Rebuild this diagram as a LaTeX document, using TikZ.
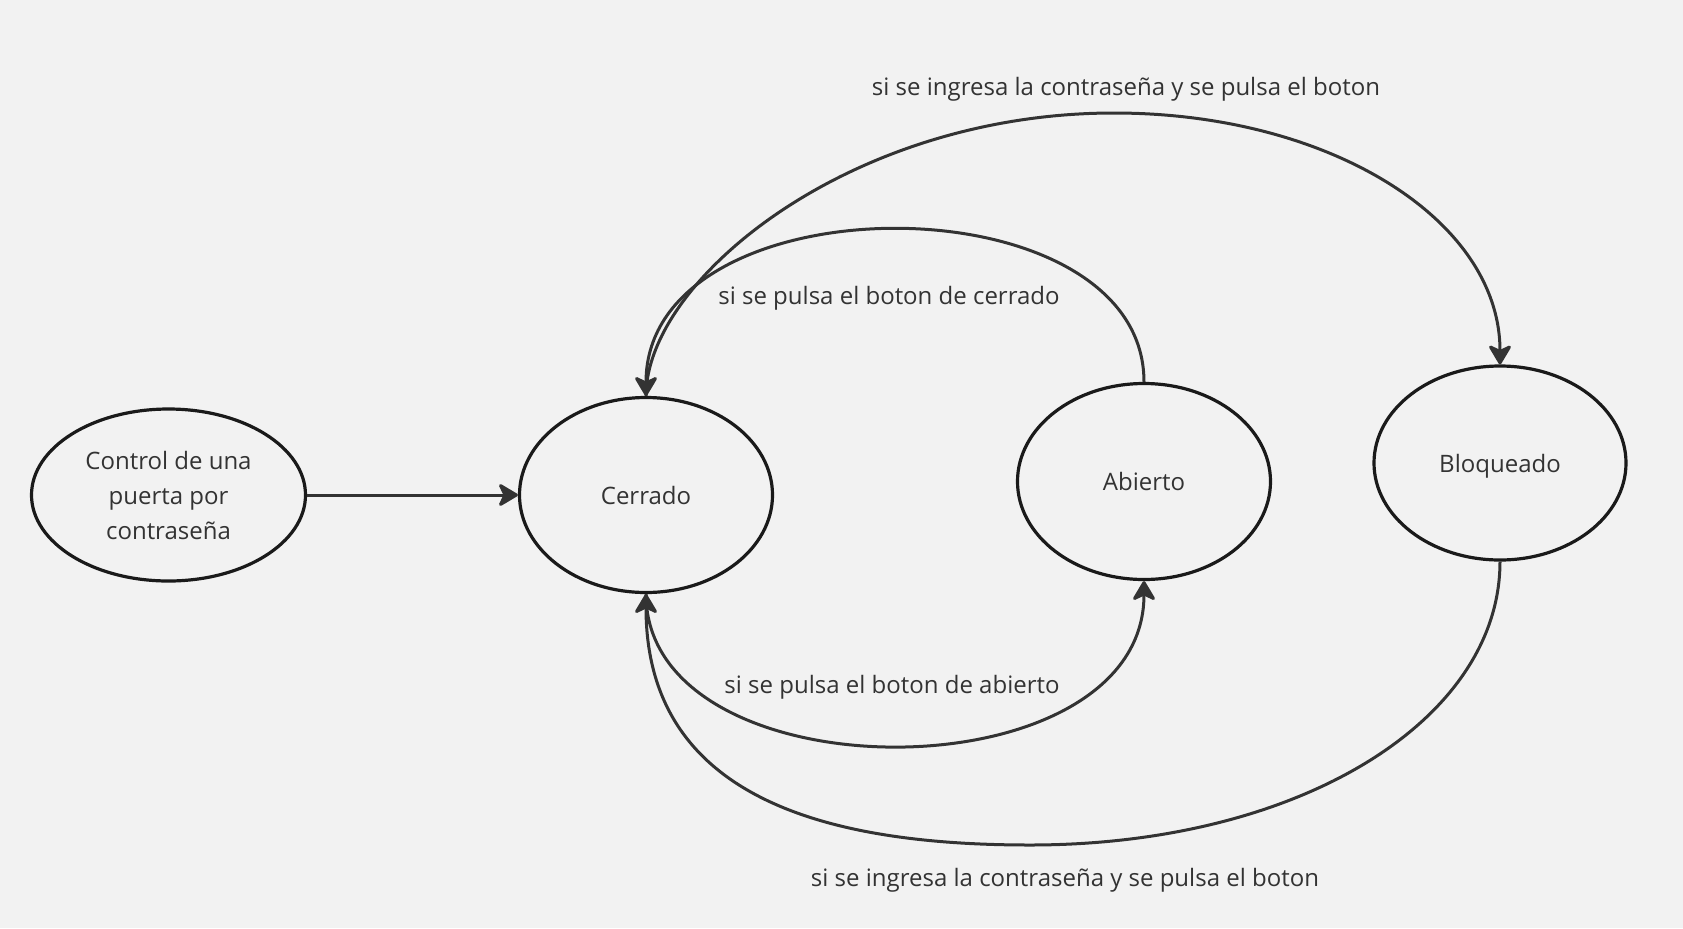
\documentclass[tikz,border=0pt]{standalone}
\usepackage{fontspec}
\setmainfont{Open Sans}
\usetikzlibrary{arrows.meta,shapes.geometric}
\definecolor{bg}{HTML}{F2F2F2}
\definecolor{ink}{HTML}{333333}
\definecolor{rim}{HTML}{1A1A1A}
\begin{document}
\begin{tikzpicture}[x=0.5pt,y=-0.5pt,
  state/.style={ellipse,draw=rim,line width=1.6pt,fill=bg,text=ink,
    font=\fontsize{12}{17.5}\selectfont,align=center,inner sep=0pt},
  conn/.style={draw=ink,line width=1.5pt},
  tip/.style={-{Stealth[length=11pt,width=13pt,inset=3pt,round]}},
  lbl/.style={text=ink,font=\fontsize{12}{14}\selectfont}]
\fill[bg] (0,0) rectangle (1683,928);
\useasboundingbox (0,0) rectangle (1683,928);

\node[state,minimum width=137pt,minimum height=86pt] (ctrl) at (168.5,495) {Control de una\\puerta por\\contraseña};
\node[state,minimum width=126.5pt,minimum height=97.5pt] (ce) at (646,495) {Cerrado};
\node[state,minimum width=126.5pt,minimum height=98pt] (ab) at (1144,481.5) {Abierto};
\node[state,minimum width=126pt,minimum height=97pt] (bl) at (1500,463) {\raisebox{0pt}[\height][0pt]{Bloqueado}};

% Control -> Cerrado
\draw[conn,tip] (ctrl.east) -- (ce.west);

% Abierto -> Cerrado (top small)
\draw[conn,tip] (ab.north) .. controls (1144,177) and (646,177) .. (ce.north);

% Cerrado -> Abierto (bottom small)
\draw[conn,tip] (ce.south) .. controls (646,798) and (1144,798) .. (ab.south);

% Cerrado -> Bloqueado (top big)
\coordinate (tpk) at (1114,113);
\draw[conn,tip] (ce.north) .. controls (646,280) and (850,113) .. (tpk)
  .. controls (1330,113) and (1500,220) .. (bl.north);

% Bloqueado -> Cerrado (bottom big)
\coordinate (bpk) at (1030,845);
\draw[conn,tip] (bl.south) .. controls (1500,720) and (1300,845) .. (bpk)
  .. controls (830,845) and (646,800) .. (ce.south);

% labels
\node[lbl] (l1) at (1126,89) {si se ingresa la contraseña y se pulsa el boton};
\node[lbl] (l2) at (889,298.5) {si se pulsa el boton de cerrado};
\node[lbl] (l3) at (892,687) {si se pulsa el boton de abierto};
\node[lbl] (l4) at (1065,880) {si se ingresa la contraseña y se pulsa el boton};
\end{tikzpicture}
\end{document}
